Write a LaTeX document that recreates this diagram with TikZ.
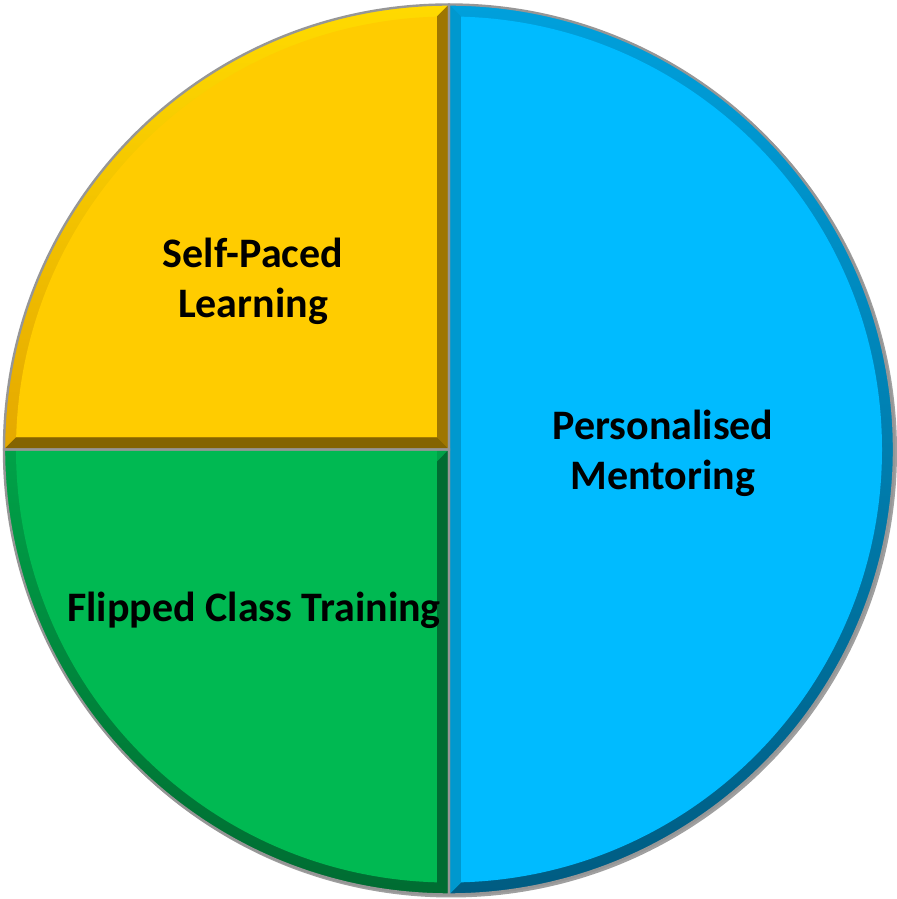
\documentclass[tikz,border=0pt]{standalone}
\usepackage{fontspec}
\setmainfont{Carlito}
\def\cx{449}
\def\cy{449.5}
\def\rayon{445}
\def\biseau{12}
\definecolor{jaune}{RGB}{255,204,0}
\definecolor{jauneclair}{RGB}{255,218,0}
\definecolor{jauneorange}{RGB}{228,168,0}
\definecolor{jaunefonce}{RGB}{158,118,0}
\definecolor{jaunesombre}{RGB}{132,100,0}
\definecolor{vert}{RGB}{0,185,82}
\definecolor{vertbord}{RGB}{0,162,72}
\definecolor{vertfonce}{RGB}{0,108,50}
\definecolor{bleu}{RGB}{0,187,255}
\definecolor{bleuclair}{RGB}{0,160,220}
\definecolor{bleumoyen}{RGB}{0,108,150}
\definecolor{bleufonce}{RGB}{0,92,130}
\definecolor{bleubord}{RGB}{0,152,206}
\definecolor{contour}{RGB}{150,150,150}

\begin{document}
\begin{tikzpicture}[x=0.5pt, y=0.5pt,
  texte/.style={font=\bfseries\fontsize{21}{25}\selectfont, align=center, text=black},
  bord/.style={draw=contour, line width=1.2pt, line join=miter}]
\useasboundingbox (0,0) rectangle (896,899);
\fill[contour!90] (\cx+2,\cy-2) circle (\rayon+1);

\shade[top color=jauneclair, bottom color=jauneorange] (\cx,\cy) -- ++(90:\rayon) arc[start angle=90, end angle=180, radius=\rayon] -- cycle;
\shade[top color=vertbord, bottom color=vertfonce] (\cx,\cy) -- ++(180:\rayon) arc[start angle=180, end angle=270, radius=\rayon] -- cycle;
\shade[top color=bleuclair, middle color=bleumoyen, bottom color=bleufonce] (\cx,\cy) -- ++(-90:\rayon) arc[start angle=-90, end angle=90, radius=\rayon] -- cycle;

\begin{scope}
\clip (\cx,\cy) circle (\rayon);
\fill[jaunefonce] (\cx,\cy) -- (\cx,\cy+\rayon) -- (\cx-\biseau,\cy+\rayon-\biseau) -- (\cx-\biseau,\cy+\biseau) -- cycle;
\fill[jaunesombre] (\cx,\cy) -- (\cx-\rayon,\cy) -- (\cx-\rayon+\biseau,\cy+\biseau) -- (\cx-\biseau,\cy+\biseau) -- cycle;
\fill[vertfonce] (\cx,\cy) -- (\cx-\biseau,\cy-\biseau) -- (\cx-\biseau,\cy-\rayon+\biseau) -- (\cx,\cy-\rayon) -- cycle;
\fill[bleubord] (\cx,\cy+\rayon) -- (\cx+\biseau,\cy+\rayon-\biseau) -- (\cx+\biseau,\cy-\rayon+\biseau) -- (\cx,\cy-\rayon) -- cycle;
\clip (\cx,\cy) circle (\rayon-\biseau);
\fill[jaune] (\cx-\biseau,\cy+\biseau) rectangle (\cx-\rayon,\cy+\rayon);
\fill[vert] (\cx-\biseau,\cy) rectangle (\cx-\rayon,\cy-\rayon);
\fill[bleu] (\cx+\biseau,\cy-\rayon) rectangle (\cx+\rayon,\cy+\rayon);
\end{scope}

\draw[bord] (\cx,\cy) -- ++(90:\rayon) arc[start angle=90, end angle=180, radius=\rayon] -- cycle;
\draw[bord] (\cx,\cy) -- ++(180:\rayon) arc[start angle=180, end angle=270, radius=\rayon] -- cycle;
\draw[bord] (\cx,\cy) -- ++(-90:\rayon) arc[start angle=-90, end angle=90, radius=\rayon] -- cycle;

\node[texte] (autonome) at (253,618) {Self-Paced\\Learning};
\node[texte] (mentorat) at (663,446) {Personalised\\Mentoring};
\node[texte] (inverse) at (254,289) {Flipped Class Training};
\end{tikzpicture}
\end{document}
